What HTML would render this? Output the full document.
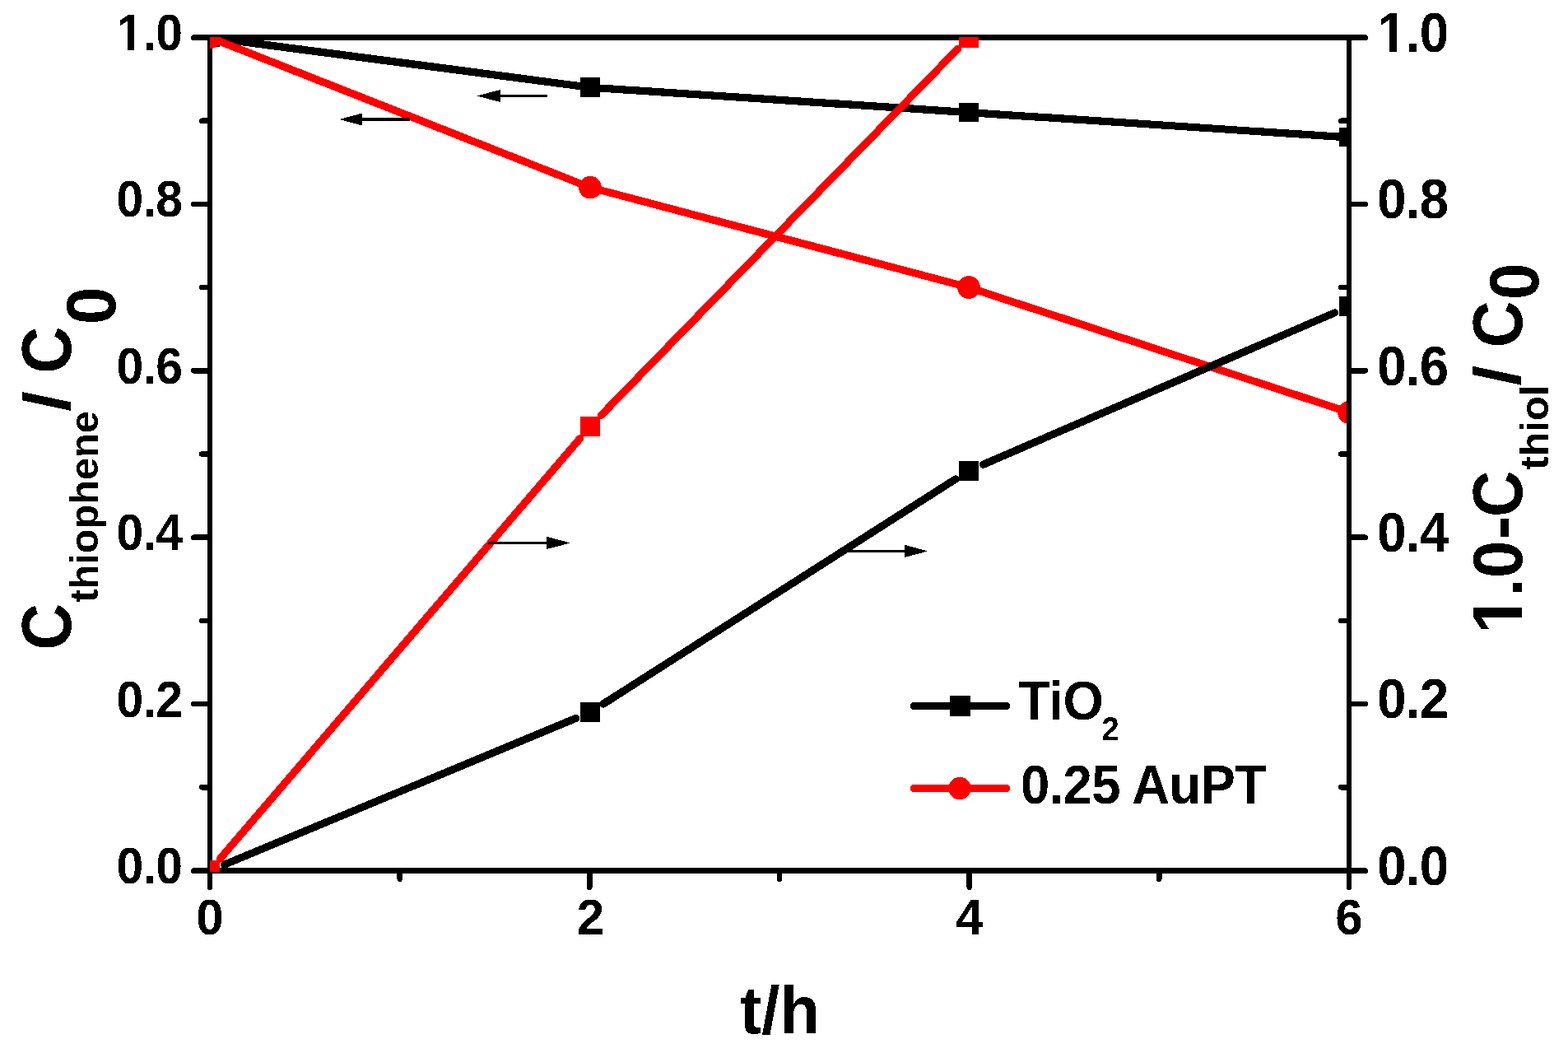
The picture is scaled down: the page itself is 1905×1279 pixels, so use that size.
<!DOCTYPE html>
<html lang="en">
<head>
<meta charset="utf-8">
<title>Thiophene conversion over TiO2 and 0.25 AuPT</title>
<style>
html,body{margin:0;padding:0;background:#fff;}
body{width:1905px;height:1279px;}
svg{display:block;}
text{font-family:"Liberation Sans", Arial, Helvetica, sans-serif;font-weight:bold;fill:#000;}
</style>
</head>
<body>
<svg width="1905" height="1279" viewBox="0 0 1905 1279">
<defs>
<clipPath id="plot"><rect x="255" y="45" width="1387" height="1014"/></clipPath>
<filter id="bilevel" filterUnits="userSpaceOnUse" x="0" y="0" width="1905" height="1279" color-interpolation-filters="sRGB"><feComponentTransfer><feFuncR type="discrete" tableValues="0 1"/><feFuncG type="discrete" tableValues="0 1"/><feFuncB type="discrete" tableValues="0 1"/></feComponentTransfer></filter>
<clipPath id="foot-l"><path d="M-4000 -4000 H4000 V-7.01 H-4000 Z M13.75 -8.01 H21.83 V4000 H13.75 Z M32.1 -8.01 H4000 V4000 H32.1 Z M-4000 -8.01 H0 V4000 H-4000 Z"/></clipPath>
<clipPath id="foot-r"><path d="M-4000 -4000 H4000 V-7.48 H-4000 Z M14.82 -8.48 H23.53 V4000 H14.82 Z M34.52 -8.48 H4000 V4000 H34.52 Z M-4000 -8.48 H0 V4000 H-4000 Z"/></clipPath>
<clipPath id="foot-v"><path d="M-4000 -4000 H4000 V-9.27 H-4000 Z M18.91 -10.27 H30.02 V4000 H18.91 Z M45.05 -10.27 H4000 V4000 H45.05 Z M-4000 -10.27 H0 V4000 H-4000 Z"/></clipPath>
</defs>
<g id="figure" filter="url(#bilevel)">
<rect x="0" y="0" width="1905" height="1279" fill="#fff"/>
<g id="axes-layer1">
<g shape-rendering="crispEdges">
<rect x="252" y="42" width="6" height="1019" fill="#000"/>
<rect x="252" y="1054" width="1390" height="7" fill="#000"/>
<rect x="252" y="42" width="1390" height="7" fill="#000"/>
</g>
<line x1="235.5" y1="1057.5" x2="254.5" y2="1057.5" stroke="#000" stroke-width="7" stroke-linecap="round"/>
<line x1="245.2" y1="956.3" x2="254.5" y2="956.3" stroke="#000" stroke-width="6.4" stroke-linecap="round"/>
<line x1="235.2" y1="855.1" x2="254.5" y2="855.1" stroke="#000" stroke-width="6.4" stroke-linecap="round"/>
<line x1="245.2" y1="753.9" x2="254.5" y2="753.9" stroke="#000" stroke-width="6.4" stroke-linecap="round"/>
<line x1="235.2" y1="652.7" x2="254.5" y2="652.7" stroke="#000" stroke-width="6.4" stroke-linecap="round"/>
<line x1="245.2" y1="551.5" x2="254.5" y2="551.5" stroke="#000" stroke-width="6.4" stroke-linecap="round"/>
<line x1="235.2" y1="450.3" x2="254.5" y2="450.3" stroke="#000" stroke-width="6.4" stroke-linecap="round"/>
<line x1="245.2" y1="349.1" x2="254.5" y2="349.1" stroke="#000" stroke-width="6.4" stroke-linecap="round"/>
<line x1="235.2" y1="247.9" x2="254.5" y2="247.9" stroke="#000" stroke-width="6.4" stroke-linecap="round"/>
<line x1="245.2" y1="146.7" x2="254.5" y2="146.7" stroke="#000" stroke-width="6.4" stroke-linecap="round"/>
<line x1="235.5" y1="45.5" x2="254.5" y2="45.5" stroke="#000" stroke-width="7" stroke-linecap="round"/>
<line x1="255" y1="1058" x2="255" y2="1077.8" stroke="#000" stroke-width="6.4" stroke-linecap="round"/>
<line x1="485.67" y1="1058" x2="485.67" y2="1067.8" stroke="#000" stroke-width="6.4" stroke-linecap="round"/>
<line x1="716.33" y1="1058" x2="716.33" y2="1077.8" stroke="#000" stroke-width="6.4" stroke-linecap="round"/>
<line x1="947" y1="1058" x2="947" y2="1067.8" stroke="#000" stroke-width="6.4" stroke-linecap="round"/>
<line x1="1177.67" y1="1058" x2="1177.67" y2="1077.8" stroke="#000" stroke-width="6.4" stroke-linecap="round"/>
<line x1="1408.33" y1="1058" x2="1408.33" y2="1067.8" stroke="#000" stroke-width="6.4" stroke-linecap="round"/>
<line x1="1639" y1="1058" x2="1639" y2="1077.8" stroke="#000" stroke-width="6.4" stroke-linecap="round"/>
</g>
<g id="data-layer1" clip-path="url(#plot)">
<line x1="255" y1="45.5" x2="717" y2="106.22" stroke="#000" stroke-width="9.2" stroke-linecap="round"/>
<line x1="717" y1="106.22" x2="1177" y2="136.58" stroke="#000" stroke-width="9.2" stroke-linecap="round"/>
<line x1="1177" y1="136.58" x2="1639" y2="166.94" stroke="#000" stroke-width="9.2" stroke-linecap="round"/>
<rect x="243" y="33" width="24" height="24" fill="#000"/>
<rect x="705" y="94" width="24" height="24" fill="#000"/>
<rect x="1165" y="125" width="24" height="23" fill="#000"/>
<rect x="1627" y="155" width="24" height="23" fill="#000"/>
<line x1="255" y1="45.5" x2="717" y2="227.66" stroke="#ff0000" stroke-width="9.2" stroke-linecap="round"/>
<line x1="717" y1="227.66" x2="1177" y2="349.1" stroke="#ff0000" stroke-width="9.2" stroke-linecap="round"/>
<line x1="1177" y1="349.1" x2="1639" y2="500.9" stroke="#ff0000" stroke-width="9.2" stroke-linecap="round"/>
<circle cx="255" cy="45.5" r="13.8" fill="#ff0000"/>
<circle cx="717" cy="227.66" r="13.8" fill="#ff0000"/>
<circle cx="1177" cy="349.1" r="13.8" fill="#ff0000"/>
<circle cx="1639" cy="500.9" r="13.8" fill="#ff0000"/>
</g>
<g id="axes-layer2">
<rect x="1636" y="42" width="6" height="1019" fill="#000" shape-rendering="crispEdges"/>
<line x1="1639.5" y1="1057.5" x2="1658.5" y2="1057.5" stroke="#000" stroke-width="7" stroke-linecap="round"/>
<line x1="1629.2" y1="956.3" x2="1638.5" y2="956.3" stroke="#000" stroke-width="6.4" stroke-linecap="round"/>
<line x1="1639.5" y1="855.1" x2="1658.8" y2="855.1" stroke="#000" stroke-width="6.4" stroke-linecap="round"/>
<line x1="1629.2" y1="753.9" x2="1638.5" y2="753.9" stroke="#000" stroke-width="6.4" stroke-linecap="round"/>
<line x1="1639.5" y1="652.7" x2="1658.8" y2="652.7" stroke="#000" stroke-width="6.4" stroke-linecap="round"/>
<line x1="1629.2" y1="551.5" x2="1638.5" y2="551.5" stroke="#000" stroke-width="6.4" stroke-linecap="round"/>
<line x1="1639.5" y1="450.3" x2="1658.8" y2="450.3" stroke="#000" stroke-width="6.4" stroke-linecap="round"/>
<line x1="1629.2" y1="349.1" x2="1638.5" y2="349.1" stroke="#000" stroke-width="6.4" stroke-linecap="round"/>
<line x1="1639.5" y1="247.9" x2="1658.8" y2="247.9" stroke="#000" stroke-width="6.4" stroke-linecap="round"/>
<line x1="1629.2" y1="146.7" x2="1638.5" y2="146.7" stroke="#000" stroke-width="6.4" stroke-linecap="round"/>
<line x1="1639.5" y1="45.5" x2="1658.5" y2="45.5" stroke="#000" stroke-width="7" stroke-linecap="round"/>
</g>
<g id="data-layer2" clip-path="url(#plot)">
<line x1="272.54" y1="1050.2" x2="699.46" y2="872.52" stroke="#000" stroke-width="9.2" stroke-linecap="round"/>
<line x1="733.02" y1="855" x2="1160.98" y2="581.96" stroke="#000" stroke-width="9.2" stroke-linecap="round"/>
<line x1="1194.45" y1="564.21" x2="1621.55" y2="379.9" stroke="#000" stroke-width="9.2" stroke-linecap="round"/>
<rect x="243" y="1045" width="24" height="24" fill="#000"/>
<rect x="705" y="853" width="24" height="24" fill="#000"/>
<rect x="1165" y="560" width="24" height="24" fill="#000"/>
<rect x="1627" y="360" width="24" height="24" fill="#000"/>
<line x1="267.36" y1="1043.07" x2="704.64" y2="532.53" stroke="#ff0000" stroke-width="9.2" stroke-linecap="round"/>
<line x1="730.25" y1="504.49" x2="1163.75" y2="59.12" stroke="#ff0000" stroke-width="9.2" stroke-linecap="round"/>
<rect x="243" y="1045" width="24" height="24" fill="#ff0000"/>
<rect x="705" y="506" width="24" height="24" fill="#ff0000"/>
<rect x="1165" y="34" width="24" height="24" fill="#ff0000"/>
</g>
<g id="arrows">
<polygon points="579,116.5 608,108.9 608,124.1" fill="#000"/>
<rect x="607" y="115" width="58.2" height="3" fill="#000"/>
<polygon points="412,145 440,137.4 440,152.6" fill="#000"/>
<rect x="439" y="143.5" width="59" height="3" fill="#000"/>
<polygon points="693.2,659.4 664,651.8 664,667" fill="#000"/>
<rect x="593" y="657.9" width="72" height="3" fill="#000"/>
<polygon points="1127.2,669.4 1099,661.8 1099,677" fill="#000"/>
<rect x="1029.5" y="667.9" width="70.5" height="3" fill="#000"/>
</g>
<g id="legend">
<line x1="1110.3" y1="857.5" x2="1222.5" y2="857.5" stroke="#000" stroke-width="9.2" stroke-linecap="round"/>
<rect x="1154" y="845" width="25" height="25" fill="#000"/>
<line x1="1110.3" y1="957.5" x2="1222.5" y2="957.5" stroke="#ff0000" stroke-width="9.2" stroke-linecap="round"/>
<circle cx="1166" cy="957.5" r="13.7" fill="#ff0000"/>
</g>
<g id="tick-labels-left">
<text transform="translate(141.53,60.97) scale(1,1.063)" font-size="58.9" text-anchor="start" style="letter-spacing:-0.66px" clip-path="url(#foot-l)">1.0</text>
<text transform="translate(141.53,263.37) scale(1,1.063)" font-size="58.9" text-anchor="start" style="letter-spacing:-0.66px">0.8</text>
<text transform="translate(141.53,465.77) scale(1,1.063)" font-size="58.9" text-anchor="start" style="letter-spacing:-0.66px">0.6</text>
<text transform="translate(141.53,668.17) scale(1,1.063)" font-size="58.9" text-anchor="start" style="letter-spacing:-0.66px">0.4</text>
<text transform="translate(141.53,870.57) scale(1,1.063)" font-size="58.9" text-anchor="start" style="letter-spacing:-0.66px">0.2</text>
<text transform="translate(141.53,1072.97) scale(1,1.063)" font-size="58.9" text-anchor="start" style="letter-spacing:-0.66px">0.0</text>
</g>
<g id="tick-labels-right">
<text transform="translate(1673.35,62.73) scale(1,1.066)" font-size="63.5" text-anchor="start" style="letter-spacing:-0.8px" clip-path="url(#foot-r)">1.0</text>
<text transform="translate(1673.35,265.13) scale(1,1.066)" font-size="63.5" text-anchor="start" style="letter-spacing:-0.8px">0.8</text>
<text transform="translate(1673.35,467.53) scale(1,1.066)" font-size="63.5" text-anchor="start" style="letter-spacing:-0.8px">0.6</text>
<text transform="translate(1673.35,669.93) scale(1,1.066)" font-size="63.5" text-anchor="start" style="letter-spacing:-0.8px">0.4</text>
<text transform="translate(1673.35,872.33) scale(1,1.066)" font-size="63.5" text-anchor="start" style="letter-spacing:-0.8px">0.2</text>
<text transform="translate(1673.35,1074.73) scale(1,1.066)" font-size="63.5" text-anchor="start" style="letter-spacing:-0.8px">0.0</text>
</g>
<g id="tick-labels-bottom">
<text transform="translate(238.3,1135.1) scale(1.02,1.038)" font-size="58.9" text-anchor="start">0</text>
<text transform="translate(700.69,1135.1) scale(1.02,1.038)" font-size="58.9" text-anchor="start">2</text>
<text transform="translate(1161.23,1135.1) scale(1.02,1.038)" font-size="58.9" text-anchor="start">4</text>
<text transform="translate(1622.25,1135.1) scale(1.02,1.038)" font-size="58.9" text-anchor="start">6</text>
</g>
<g id="legend-text">
<text transform="translate(1240.1,975.64) scale(1,1.057)" font-size="63.5" text-anchor="start" style="letter-spacing:-0.74px">0.25 AuPT</text>
<text transform="translate(1237.15,873.9) scale(1,1.045)" font-size="63.5" style="letter-spacing:-0.48px">TiO<tspan font-size="38.1" dx="-1.91" dy="24.12" style="letter-spacing:0">2</tspan></text>
</g>
<g id="axis-titles">
<text transform="translate(898.82,1254.9) scale(0.984,1.006)" font-size="81">t/h</text>
<g id="title-left">
<text transform="translate(85.51,789.47) rotate(-90) scale(0.968,1.057)" font-size="81">C</text>
<text transform="translate(119.08,731.63) rotate(-90) scale(1.001,0.99)" font-size="48.6">thiophene</text>
<text transform="translate(84.6,499.82) rotate(-90) scale(1.09,0.984)" font-size="81">/</text>
<text transform="translate(85.51,453.58) rotate(-90) scale(0.972,1.057)" font-size="81">C</text>
<text transform="translate(140.31,394.32) rotate(-90) scale(1.021,1.05)" font-size="81">0</text>
</g>
<g id="title-right">
<text transform="translate(1848.9,769.64) rotate(-90) scale(1.054,1.062)" font-size="81" clip-path="url(#foot-v)">1</text>
<text transform="translate(1848.9,724.02) rotate(-90) scale(0.949,0.882)" font-size="81">.</text>
<text transform="translate(1849.11,702.29) rotate(-90) scale(1.013,1.057)" font-size="81">0</text>
<text transform="translate(1849.11,655.2) rotate(-90) scale(1.057,1.005)" font-size="81">-</text>
<text transform="translate(1848.51,628.06) rotate(-90) scale(0.965,1.052)" font-size="81">C</text>
<text transform="translate(1880.61,570.63) rotate(-90) scale(1.005,0.982)" font-size="48.6">thiol</text>
<text transform="translate(1847.31,468.83) rotate(-90) scale(1.11,0.981)" font-size="81">/</text>
<text transform="translate(1848.51,422.27) rotate(-90) scale(0.97,1.052)" font-size="81">C</text>
<text transform="translate(1868.71,364.02) rotate(-90) scale(0.99,1.048)" font-size="81">0</text>
</g>
</g>
</g>
</svg>
</body>
</html>
